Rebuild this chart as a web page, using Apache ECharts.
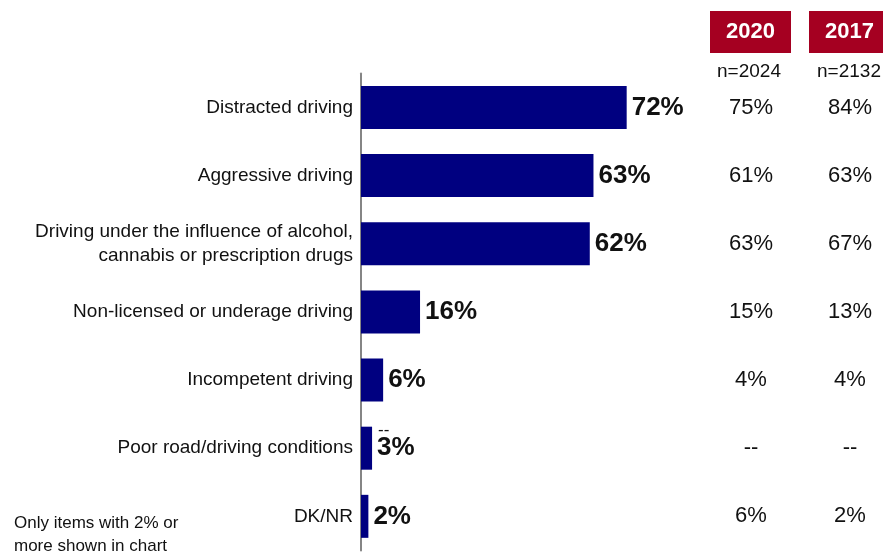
<!DOCTYPE html>
<html>
<head>
<meta charset="utf-8">
<script src="https://cdn.jsdelivr.net/npm/echarts@6/dist/echarts.min.js"></script>
<style>html,body{margin:0;padding:0;background:#fff}#c{width:883px;height:556px}</style>
</head>
<body>
<div id="c"></div>
<script>
var categories = [
  'Distracted driving',
  'Aggressive driving',
  'Driving under the influence of alcohol,\ncannabis or prescription drugs',
  'Non-licensed or underage driving',
  'Incompetent driving',
  'Poor road/driving conditions',
  'DK/NR'
];
var values2023 = [72, 63, 62, 16, 6, 3, 2];
var values2020 = ['75%', '61%', '63%', '15%', '4%', '--', '6%'];
var values2017 = ['84%', '63%', '67%', '13%', '4%', '--', '2%'];
var headers = ['2020', '2017'];
var sampleSizes = ['n=2024', 'n=2132'];
var footnote = 'Only items with 2% or\nmore shown in chart';

var FONT = '"Liberation Sans", Arial, sans-serif';
var chart = echarts.init(document.getElementById('c'), null, {renderer: 'canvas'});

function sideAxis(data, offset) {
  return {
    type: 'category', data: data, inverse: true, position: 'right', offset: offset,
    axisLine: {show: false}, axisTick: {show: false},
    axisLabel: {margin: 21, align: 'center', fontFamily: FONT, fontSize: 22, color: '#111',
      padding: [10, 0, 0, 0]}
  };
}

var option = {
  animation: false,
  backgroundColor: '#ffffff',
  grid: {left: 361, right: 153, top: 73.4, height: 477, containLabel: false},
  xAxis: {type: 'value', min: 0, max: 100, show: false},
  yAxis: [
    {
      type: 'category', data: categories, inverse: true,
      axisLine: {show: true, lineStyle: {color: '#858585', width: 2}},
      axisTick: {show: false},
      axisLabel: {margin: 8, fontFamily: FONT, fontSize: 19, color: '#111', lineHeight: 24, align: 'right',
        padding: [3, 0, 0, 0]}
    },
    sideAxis(values2020, 0),
    sideAxis(values2017, 99)
  ],
  series: [{
    type: 'bar', data: values2023, yAxisIndex: 0, barWidth: 43,
    itemStyle: {color: '#000080'},
    label: {show: true, position: 'right', distance: 5, formatter: '{c}%',
      fontFamily: FONT, fontWeight: 'bold', fontSize: 26, color: '#111', padding: [3, 0, 0, 0]}
  }],
  graphic: [
    {type: 'rect', left: 710, top: 11, shape: {width: 81, height: 42}, style: {fill: '#A50021'}},
    {type: 'rect', left: 809, top: 11, shape: {width: 81, height: 42}, style: {fill: '#A50021'}},
    {type: 'text', x: 750.5, y: 32, style: {text: headers[0], fill: '#fff', font: 'bold 22px ' + FONT, textAlign: 'center', textVerticalAlign: 'middle'}},
    {type: 'text', x: 849.5, y: 32, style: {text: headers[1], fill: '#fff', font: 'bold 22px ' + FONT, textAlign: 'center', textVerticalAlign: 'middle'}},
    {type: 'text', x: 749, y: 72, style: {text: sampleSizes[0], fill: '#111', font: '19px ' + FONT, textAlign: 'center', textVerticalAlign: 'middle'}},
    {type: 'text', x: 849, y: 72, style: {text: sampleSizes[1], fill: '#111', font: '19px ' + FONT, textAlign: 'center', textVerticalAlign: 'middle'}},
    {type: 'text', x: 14, y: 512, style: {text: footnote, fill: '#111', font: '17px ' + FONT, lineHeight: 23, textVerticalAlign: 'top'}},
    {type: 'text', x: 378, y: 430, style: {text: '--', fill: '#111', font: '17px ' + FONT, textVerticalAlign: 'middle'}}
  ]
};
chart.setOption(option);
</script>
</body>
</html>
